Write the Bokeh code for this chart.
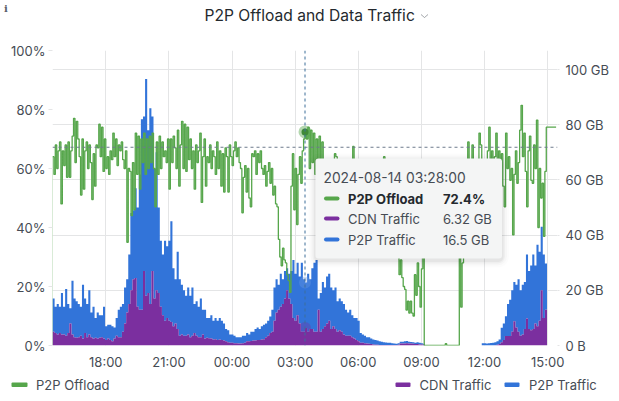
from datetime import datetime, timedelta
from bokeh.plotting import figure
from bokeh.layouts import column
from bokeh.models import (Range1d, LinearAxis, DatetimeAxis, FixedTicker, Grid, Span, Label,
                          BoxAnnotation, PolyAnnotation, CustomJSTickFormatter)
from bokeh.embed import file_html
from bokeh.resources import INLINE

# ---- data -------------------------------------------------------------
title_text = "P2P Offload and Data Traffic"
t_start = datetime(2024, 8, 13, 15, 28)
t_end = datetime(2024, 8, 14, 15, 28)
t_cross = datetime(2024, 8, 14, 3, 28)
threshold_pct = 67.2
offload_step_min = 4
traffic_step_min = 6
pct_ticks = [0, 20, 40, 60, 80, 100]
gb_ticks = [0, 20, 40, 60, 80, 100]
gb_labels = {0: "0 B", 20: "20 GB", 40: "40 GB", 60: "60 GB", 80: "80 GB", 100: "100 GB"}
time_ticks = [datetime(2024, 8, 13, 18), datetime(2024, 8, 13, 21), datetime(2024, 8, 14, 0),
              datetime(2024, 8, 14, 3), datetime(2024, 8, 14, 6), datetime(2024, 8, 14, 9),
              datetime(2024, 8, 14, 12), datetime(2024, 8, 14, 15)]
time_labels = ["18:00", "21:00", "00:00", "03:00", "06:00", "09:00", "12:00", "15:00"]
cross_offload = 72.4
cross_cdn = 6.32
cross_p2p = 16.5

offload_pct = [
    64,58,68,60,66,69,48,66,61,68,57,69,57,66,71,
    77,62,76,70,64,51,70,53,66,69,60,68,62,49.5,65,
    54,68,67,75,64,74,59,70,
    60,64,58,66,63,72,64,70,61,68,66,69,63,60,66,
    35,60,59,44,62,46,72,58,71,53,70,62,72,58,70,
    60,71,62,72,60,47,69,58,71,60,69,64,66,62,70,
    53,70,62,71,67,60,73,54,68,76,60,75,59,74,63,
    70,60,66,53,68,62,66,72,48.5,64,70,54,64,62,68,
    60,66,64,58,69,60,66,54,65,52,67,64,52,68,64,
    61,66,69,64,67,62,60,45,57,61,52,60,50,47,65,
    64,66,58,65,62,66,60,58,61,54,59,62,55,60,51,
    54,48,47,36,30,27,33,29,28,24,22,18,54,65,46,
    60,41,58,64,55,66,70,72.4,70,74,60,73,62,72,58,
    70,55,71,58,69,52,62,55,57,60,54,58,52,65,64,
    55,58,52,57,54,60,55,52,58,54,56,67.5,55,53,57,
    55,52,54,50,56,53,50,63,52,48,54,50,47,52,49,
    50,46,52,64,48,44,50,46,42,45,40,44,40,31,24,
    29,23,20,19,12,15,11,15,11,10,24,17,28,20,13,
    26,45,0,0,0,0,0,0,0,0,0,0,0,0,0,
    0,0,0.6,0,0,0,0,0,0,0,0,0,40,13,28,
    44,38,50,69,55,60,68,52,60,56,48,72,68,50,62,
    63,60,66,74,62,66,58,64,72,60,66,60,65,54,47,
    72,60,64,56,60,37.5,58,66,55,62,73,81.4,64,72,59,
    47,66,71,56,55,68,60,76.4,40,60,50,55,37,59,74,
    74,74,74,74,74,74,74,
]

stack_top_gb = [
    17,14,15,14,19,14,20.5,15,13.5,23.5,17,16,15,14,22,17,15,20,12,14,10,12,11,11,14,7,
    7.5,7.5,7,6.5,10,13,14,15,21,24,33,48,49,57,50,62,82,83,96.6,78,86,83,64,70,50,38,33,38,36,38,
    45,28,24,34,24,22,20,18,21,18,21,15,16,14,17,13,13,10,10,11,9,10,9,10,9,8,6,5.5,4,4,
    3.5,3,3,3,3.5,3.5,4.5,4,5,5,6,6.5,6,7,7.5,8,9,10.5,13,21,24,22,26,24,27,28,26,27,31,26,
    30,25,30,24,22.82,26,24,28,30,31,17,19,23,21,25,26,21,20,21,16,17,16,15,13,12,13,11,10,10,9,
    4.5,4,3.5,3,3,2.5,2.2,2,1.8,1.5,1.4,1.2,1.1,1,1,0.8,0.7,0.6,0.8,1.4,1.4,1.5,1.6,1.4,1.3,1.2,1,1.2,1,0.8,
    0.6,0,0,0,0,0,0,0,0,0,0,0,0,0,0,0,0,0,0,0,0,0,0,0,0,0,0,0,0.8,0.8,
    0.7,0.8,0.9,1,1.2,1.5,2.2,6.4,8,10.6,15,16.6,20,23,22,24,20,22,23,33,27,29,33,29,36.5,34,43,33,29.7,29.7,
]

cdn_gb = [
    5,4.5,4,4.5,4,4,3.5,4.5,8,4,3,2.8,3,3.5,2.5,4.5,3,4,3,2.5,2.8,2.5,2.8,3,2.5,2,
    2.5,2,1.5,2.5,3.5,3,3,5,8,12,15,20,24,24.5,14,13,13,27,18,19,15,27,17,20,19,14,11,9,10,9,
    8.5,7,8,6,3.5,4,3.5,3.5,4,3,3.5,4.5,3.5,3,3,4,2.5,2.8,2.6,2.5,2.2,2.3,2,2.2,2,1.8,1.5,1.2,1,1,
    0.8,0.8,0.7,0.7,0.8,1,1.5,1.5,1.6,1.8,1.8,2,2,2.2,2.3,3,3.5,4.5,5,9,12,13,14,15,17,20,17,15,10,9,
    11,8,5,5,6.32,5,6,6,5,5,13,5,6,7,8,9,6,7,6,5,5.5,5,4,3.5,3.5,3.5,3,2.5,2,1.5,
    1,1,0.8,0.7,0.6,0.5,0.4,0.3,0.3,0.2,0.2,0.2,0.2,0.2,0.2,0.2,0.2,0.2,0.3,0.7,0.7,0.7,0.8,0.7,0.7,0.6,0.5,0.5,0.4,0.4,
    0.3,0,0,0,0,0,0,0,0,0,0,0,0,0,0,0,0,0,0,0,0,0,0,0,0,0,0,0,0,0,
    0,0,0,0,0.1,0.3,0.5,1.2,2,3.4,3.4,3.4,5,8.8,6.5,5,3.5,4,6,9.8,6,5.5,6,8,7,9,20,10,13,11,
]

GREEN = "#56A64B"
PURPLE = "#7B2F9F"
BLUE = "#3274D9"
GRID = "#E4E5E6"
TEXT = "#464C54"
DARK = "#24292E"
FONT = "Inter"
W = 617
TOP_H, MAIN_H, LEG_H = 30, 342, 27
MAIN_Y = TOP_H
LEG_Y = TOP_H + MAIN_H

offload_t = [t_start + timedelta(minutes=offload_step_min * i) for i in range(len(offload_pct))]
traffic_t = [t_start + timedelta(minutes=traffic_step_min * i) for i in range(len(stack_top_gb))]

p = figure(width=W, height=MAIN_H, output_backend="svg", toolbar_location=None,
           x_range=Range1d(t_start, t_end), y_range=Range1d(0, 100),
           x_axis_type=None, y_axis_type=None, frame_align=False,
           min_border_left=52, min_border_right=W - 557, min_border_top=50 - MAIN_Y, min_border_bottom=MAIN_Y + MAIN_H - 346)
p.outline_line_color = None
p.background_fill_color = "white"
p.border_fill_color = "white"
p.extra_y_ranges = {"gb": Range1d(0, 106.9)}


def strip(height):
    f = figure(width=W, height=height, output_backend="svg", toolbar_location=None,
               x_range=Range1d(0, W), y_range=Range1d(0, height), x_axis_type=None, y_axis_type=None,
               min_border=0, frame_align=False)
    f.outline_line_color = None
    f.grid.visible = False
    return f


top_fig = strip(TOP_H)
leg_fig = strip(LEG_H)


def style(ax):
    ax.axis_line_color = None
    ax.major_tick_in = 0
    ax.minor_tick_line_color = None
    ax.major_label_text_font = FONT
    ax.major_label_text_font_size = "13px"
    ax.major_label_text_color = TEXT
    ax.major_tick_line_color = GRID


left = LinearAxis(ticker=FixedTicker(ticks=pct_ticks), major_label_overrides={v: f"{v}%" for v in pct_ticks})
style(left)
left.major_tick_out = 4
left.major_label_standoff = 3
p.add_layout(left, "left")

right = LinearAxis(y_range_name="gb", ticker=FixedTicker(ticks=gb_ticks), major_label_overrides=gb_labels)
style(right)
right.major_tick_out = 2
right.major_label_standoff = 6
p.add_layout(right, "right")

tick_ms = [(t - datetime(1970, 1, 1)).total_seconds() * 1000 for t in time_ticks]
bottom = DatetimeAxis(ticker=FixedTicker(ticks=tick_ms))
bottom.formatter = CustomJSTickFormatter(args=dict(tick_values=tick_ms, tick_texts=time_labels),
                                         code="return tick_texts[tick_values.indexOf(tick)]")
style(bottom)
bottom.major_tick_out = 0
bottom.major_label_standoff = 8
p.add_layout(bottom, "below")

p.add_layout(Grid(dimension=0, ticker=FixedTicker(ticks=tick_ms), grid_line_color=GRID))
p.add_layout(Grid(dimension=1, y_range_name="gb", ticker=FixedTicker(ticks=gb_ticks), grid_line_color=GRID))

p.varea_step(x=traffic_t, y1=cdn_gb, y2=stack_top_gb, step_mode="after", fill_color=BLUE, y_range_name="gb")
p.varea_step(x=traffic_t, y1=[0] * len(cdn_gb), y2=cdn_gb, step_mode="after", fill_color=PURPLE, y_range_name="gb")
p.segment(x0=[t_start], y0=[0], x1=[t_start], y1=[offload_pct[0]], line_color=GREEN, line_alpha=0.45, line_width=1)
p.step(x=offload_t, y=offload_pct, mode="after", line_color=GREEN, line_width=1.3)

# hover markers
p.scatter(x=[t_cross], y=[cross_offload], size=13, fill_color=GREEN, fill_alpha=0.45, line_color=None)
p.scatter(x=[t_cross], y=[cross_offload], size=7, fill_color="#3F8A38", line_color=None)
p.scatter(x=[t_cross], y=[cross_cdn], size=12, fill_color=PURPLE, fill_alpha=0.35, line_color=None, y_range_name="gb")
p.scatter(x=[t_cross], y=[cross_cdn + cross_p2p], size=12, fill_color="#6D9CE3", fill_alpha=0.35, line_color=None, y_range_name="gb")

p.add_layout(Span(location=threshold_pct, dimension="width", line_color="#6E7B8C", line_dash="3 3", line_width=1))
p.add_layout(Span(location=t_cross, dimension="height", line_color="#3D6E99", line_dash="3 3", line_width=1))


def text(f, oy, x, y, s, size="13px", color=TEXT, style="normal", font=FONT):
    f.add_layout(Label(x=x, y=y - oy, x_units="canvas", y_units="canvas", text=s, text_font=font,
                       text_font_size=size, text_color=color, text_font_style=style,
                       text_baseline="middle", text_align="left"))


def box(f, oy, x0, y0, x1, y1, color, alpha=1.0, radius=0):
    f.add_layout(BoxAnnotation(left=x0, right=x1, top=y0 - oy, bottom=y1 - oy,
                               left_units="canvas", right_units="canvas", top_units="canvas", bottom_units="canvas",
                               fill_color=color, fill_alpha=alpha, line_color=None, border_radius=int(radius),
                               level="annotation"))


# title
text(top_fig, 0, 204, 15, title_text, size="15.6px", color=DARK)
top_fig.add_layout(PolyAnnotation(xs=[420.5, 424, 427.5, 424], ys=[14, 17, 14, 17],
                                  xs_units="canvas", ys_units="canvas", fill_alpha=0,
                                  line_color="#5A6068", line_width=1))
text(top_fig, 0, 3.5, 8, "i", size="10px", color="#5A6068", style="bold", font="DejaVu Serif")

# tooltip
for d, a in [(7, 0.012), (5, 0.02), (3, 0.03), (1.5, 0.04)]:
    box(p, MAIN_Y, 315 - d, 158 - d + 2, 501.5 + d, 258 + d + 2, "#000000", a, 4 + d)
box(p, MAIN_Y, 315, 158, 501.5, 258, "#F4F5F5", 1, 3)
text(p, MAIN_Y, 323, 177.5, "2024-08-14 03:28:00", size="13.8px", color=TEXT)
box(p, MAIN_Y, 323.5, 196, 339, 200, GREEN, 1, 2)
text(p, MAIN_Y, 347.5, 198, "P2P Offload", color=DARK, style="bold")
text(p, MAIN_Y, 442.5, 198, f"{cross_offload}%", color=DARK, style="bold")
box(p, MAIN_Y, 323.5, 216, 339, 220, PURPLE, 1, 2)
text(p, MAIN_Y, 347.5, 218, "CDN Traffic")
text(p, MAIN_Y, 442.5, 218, f"{cross_cdn} GB")
box(p, MAIN_Y, 323.5, 237, 339, 241, BLUE, 1, 2)
text(p, MAIN_Y, 347.5, 239, "P2P Traffic")
text(p, MAIN_Y, 442.5, 239, f"{cross_p2p} GB")

# legend
box(leg_fig, LEG_Y, 11, 382, 27, 386.5, GREEN, 1, 1)
text(leg_fig, LEG_Y, 35.5, 384.5, "P2P Offload")
box(leg_fig, LEG_Y, 395, 382, 410, 386.5, PURPLE, 1, 1)
text(leg_fig, LEG_Y, 419, 384.5, "CDN Traffic")
box(leg_fig, LEG_Y, 504, 382, 519, 386.5, BLUE, 1, 1)
text(leg_fig, LEG_Y, 528.5, 384.5, "P2P Traffic")

page = column(top_fig, p, leg_fig, spacing=0)
open("out.html", "w").write(file_html(page, INLINE))
